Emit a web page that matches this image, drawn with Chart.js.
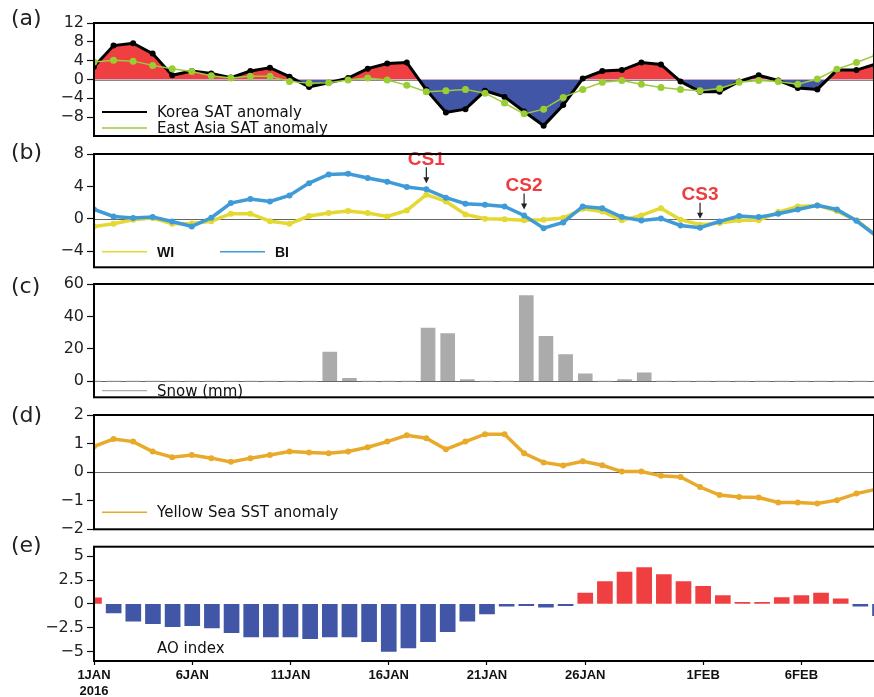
<!DOCTYPE html>
<html>
<head>
<meta charset="utf-8">
<script src="https://cdn.jsdelivr.net/npm/chart.js@4/dist/chart.umd.min.js"></script>
<style>
  html, body { margin: 0; padding: 0; background: #fff; width: 874px; height: 697px; overflow: hidden; }
  canvas { position: absolute; left: 0; top: 0; }
</style>
</head>
<body>
<canvas id="pa" width="878" height="697"></canvas>
<canvas id="pb" width="878" height="697"></canvas>
<canvas id="pc" width="878" height="697"></canvas>
<canvas id="pd" width="878" height="697"></canvas>
<canvas id="pe" width="878" height="697"></canvas>
<script>
// Daily values, 1 Jan – 10 Feb 2016 (array index = days since 1 Jan)
const dates = [
  '1JAN','2JAN','3JAN','4JAN','5JAN','6JAN','7JAN','8JAN','9JAN','10JAN',
  '11JAN','12JAN','13JAN','14JAN','15JAN','16JAN','17JAN','18JAN','19JAN','20JAN',
  '21JAN','22JAN','23JAN','24JAN','25JAN','26JAN','27JAN','28JAN','29JAN','30JAN',
  '31JAN','1FEB','2FEB','3FEB','4FEB','5FEB','6FEB','7FEB','8FEB','9FEB','10FEB'
];

// (a) surface air temperature anomalies
const koreaSAT = [2.7, 7.2, 7.7, 5.5, 0.9, 1.8, 1.3, 0.4, 1.8, 2.5,
  0.6, -1.6, -0.7, 0.3, 2.3, 3.4, 3.6, -2.2, -7.0, -6.3,
  -2.4, -3.7, -6.8, -9.8, -5.4, 0.2, 1.8, 2.0, 3.6, 3.2,
  -0.4, -2.6, -2.6, -0.4, 0.9, -0.2, -1.8, -2.1, 2.0, 2.0, 3.3];
const eastAsiaSAT = [3.7, 4.1, 3.9, 3.0, 2.3, 1.7, 0.8, 0.3, 0.7, 0.7,
  -0.4, -0.8, -0.7, -0.1, 0.3, -0.1, -1.2, -2.6, -2.4, -2.1,
  -2.9, -5.0, -7.3, -6.3, -3.8, -2.1, -0.6, -0.2, -1.0, -1.7,
  -2.1, -2.4, -1.9, -0.6, -0.2, -0.4, -1.0, 0.1, 2.2, 3.6, 5.2];

// (b) WI and BI indices
const wiIndex = [-0.95, -0.62, -0.12, 0.08, -0.62, -0.6, -0.3, 0.62, 0.62, -0.3,
  -0.62, 0.33, 0.7, 0.95, 0.7, 0.28, 1.03, 2.97, 2.14, 0.53,
  0.0, -0.05, -0.2, -0.12, 0.08, 1.23, 0.9, -0.2, 0.41, 1.31,
  -0.12, -0.74, -0.54, -0.2, -0.2, 0.82, 1.52, 1.65, 0.95, -0.2, -2.0];
const biIndex = [1.15, 0.28, 0.1, 0.2, -0.35, -0.95, 0.12, 1.93, 2.43, 2.14,
  2.88, 4.4, 5.48, 5.56, 5.03, 4.58, 3.92, 3.63, 2.6, 1.86,
  1.73, 1.52, 0.41, -1.16, -0.46, 1.52, 1.31, 0.2, -0.21, 0.04,
  -0.83, -1.11, -0.33, 0.33, 0.2, 0.62, 1.15, 1.65, 1.15, -0.25, -2.1];
const coldSurges = [
  { label: 'CS1', date: '18JAN' },
  { label: 'CS2', date: '23JAN' },
  { label: 'CS3', date: '1FEB' }
];

// (c) snowfall (mm)
const snowMM = [0, 0, 0, 0, 0, 0, 0, 0, 0, 0,
  0, 0, 18, 1.7, 0, 0, 0, 32.8, 29.3, 1,
  0, 0, 52.8, 27.6, 16.4, 4.5, 0, 1, 5.1, 0,
  0, 0, 0, 0, 0, 0, 0, 0, 0, 0, 0];

// (d) Yellow Sea sea surface temperature anomaly
const yellowSeaSST = [0.9, 1.16, 1.07, 0.72, 0.52, 0.6, 0.49, 0.36, 0.49, 0.6,
  0.72, 0.69, 0.66, 0.72, 0.87, 1.07, 1.29, 1.19, 0.8, 1.07,
  1.33, 1.33, 0.66, 0.34, 0.23, 0.38, 0.24, 0.02, 0.02, -0.13,
  -0.17, -0.52, -0.8, -0.87, -0.89, -1.06, -1.06, -1.1, -0.98, -0.75, -0.6];

// (e) Arctic Oscillation index
const aoIndex = [0.63, -0.95, -1.83, -2.07, -2.39, -2.28, -2.53, -3.02, -3.47, -3.47,
  -3.47, -3.65, -3.47, -3.47, -3.97, -4.99, -4.63, -3.97, -2.92, -1.83,
  -1.05, -0.25, -0.18, -0.36, -0.18, 1.12, 2.35, 3.33, 3.82, 3.08,
  2.35, 1.85, 0.87, 0.17, 0.15, 0.66, 0.87, 1.12, 0.53, -0.25, -1.23];

// axis ticks
const xTickDates = ['1JAN', '6JAN', '11JAN', '16JAN', '21JAN', '26JAN', '1FEB', '6FEB'];
const yearLabel = '2016';
const ticksA = [12, 8, 4, 0, -4, -8];
const ticksB = [8, 4, 0, -4];
const ticksC = [60, 40, 20, 0];
const ticksD = [2, 1, 0, -1, -2];
const ticksE = [5, 2.5, 0, -2.5, -5];

// ---- layout / style ----
const W = 878, H = 697, AXIS_W = 94, DAY_PX = 19.65;
const X_MAX = (W - AXIS_W) / DAY_PX;
const RED = '#EF3F41', BLUE = '#4256A7';
const TICK_FONT = { family: '"DejaVu Sans", sans-serif', size: 16 };
const LEGEND_FONT = '15px "DejaVu Sans", sans-serif';

const pts = arr => arr.map((v, i) => ({ x: i, y: v }));
const dayOf = d => dates.indexOf(d);
const fmt = v => (v < 0 ? '\u2212' : '') + Math.abs(v);

function yScale(min, max, ticks) {
  return {
    type: 'linear', min, max,
    afterFit: s => { s.width = AXIS_W; },
    afterBuildTicks: s => { s.ticks = ticks.map(v => ({ value: v })); },
    ticks: { callback: v => fmt(v), color: '#222', padding: 3, font: TICK_FONT, autoSkip: false },
    grid: { drawOnChartArea: false, drawTicks: true, tickLength: 7, tickColor: '#111', tickWidth: 1.2, offset: false },
    border: { display: false }
  };
}
function xHidden() {
  return { type: 'linear', min: 0, max: X_MAX, offset: false, display: false };
}
function xDates() {
  return {
    type: 'linear', min: 0, max: X_MAX, offset: false,
    afterBuildTicks: s => { s.ticks = xTickDates.map(d => ({ value: dayOf(d) })); },
    afterFit: s => { s.height = 36; },
    ticks: {
      autoSkip: false, maxRotation: 0, color: '#111', padding: 3,
      font: { family: '"Liberation Sans", Arial, sans-serif', size: 13, weight: 'bold', lineHeight: 1.2 },
      callback: (v, i) => i === 0 ? [xTickDates[0], yearLabel] : xTickDates[i]
    },
    grid: { drawOnChartArea: false, drawTicks: true, tickLength: 4, tickColor: '#000', tickWidth: 1.2, offset: false },
    border: { display: false }
  };
}

// frame, zero line, panel tag, in-plot legend and cold-surge markers
function decor(cfg) {
  return {
    id: 'decor',
    beforeDatasetsDraw(chart) {
      if (!cfg.zeroLine) return;
      const { ctx, chartArea: a, scales: { y } } = chart;
      const py = Math.round(y.getPixelForValue(0)) + 0.5;
      ctx.save();
      ctx.strokeStyle = cfg.zeroLine; ctx.lineWidth = 1;
      ctx.beginPath(); ctx.moveTo(a.left, py); ctx.lineTo(a.right, py); ctx.stroke();
      ctx.restore();
    },
    afterDatasetsDraw(chart) {
      const { ctx, chartArea: a, scales: { x, y } } = chart;
      ctx.save();
      (cfg.legend || []).forEach(it => {
        const x0 = a.left + (it.dx || 0);
        if (it.color) {
          ctx.strokeStyle = it.color; ctx.lineWidth = it.width || 1.5;
          ctx.beginPath(); ctx.moveTo(x0 + 8, it.y); ctx.lineTo(x0 + 53, it.y); ctx.stroke();
        }
        ctx.font = it.font || LEGEND_FONT;
        ctx.fillStyle = '#111'; ctx.textAlign = 'left'; ctx.textBaseline = 'middle';
        ctx.fillText(it.text, x0 + 63, it.y + 1);
      });
      (cfg.surges || []).forEach(cs => {
        const d = dayOf(cs.date);
        const px = x.getPixelForValue(d);
        const tip = y.getPixelForValue(Math.max(biIndex[d], wiIndex[d])) - 6;
        const top = tip - 16;
        ctx.strokeStyle = '#222'; ctx.fillStyle = '#222'; ctx.lineWidth = 1.2;
        ctx.beginPath(); ctx.moveTo(px, top); ctx.lineTo(px, tip - 4); ctx.stroke();
        ctx.beginPath(); ctx.moveTo(px, tip); ctx.lineTo(px - 3, tip - 6); ctx.lineTo(px + 3, tip - 6); ctx.closePath(); ctx.fill();
        ctx.font = 'bold 19px "Liberation Sans", Arial, sans-serif';
        ctx.fillStyle = '#EF3B3E'; ctx.textAlign = 'center'; ctx.textBaseline = 'middle';
        ctx.fillText(cs.label, px, top - 8);
      });
      ctx.strokeStyle = '#000'; ctx.lineWidth = 2;
      ctx.strokeRect(a.left, a.top, a.right - a.left, a.bottom - a.top);
      ctx.font = '22px "DejaVu Sans", sans-serif';
      ctx.fillStyle = '#222'; ctx.textAlign = 'left'; ctx.textBaseline = 'middle';
      ctx.fillText(cfg.tag, 11, cfg.tagY);
      ctx.restore();
    }
  };
}

function baseOptions(top, bottom, scales) {
  return {
    responsive: false, animation: false, devicePixelRatio: 1, events: [],
    layout: { padding: { top, bottom: H - bottom, left: 0, right: 0 } },
    plugins: { legend: { display: false }, tooltip: { enabled: false } },
    scales
  };
}

// (a)
new Chart(document.getElementById('pa'), {
  type: 'line',
  data: {
    datasets: [
      { data: pts(eastAsiaSAT), borderColor: '#9BCB3B', borderWidth: 1.5, pointRadius: 3.5,
        pointBackgroundColor: '#9ACD32', pointBorderWidth: 0, fill: false, tension: 0 },
      { data: pts(koreaSAT), borderColor: '#000', borderWidth: 3, pointRadius: 3,
        pointBackgroundColor: '#000', pointBorderWidth: 0, tension: 0,
        fill: { target: 'origin', above: RED, below: BLUE } }
    ]
  },
  options: baseOptions(23, 136, { x: xHidden(), y: yScale(-12, 12, ticksA) }),
  plugins: [decor({
    tag: '(a)', tagY: 19, zeroLine: '#888',
    legend: [
      { text: 'Korea SAT anomaly', y: 112, color: '#000', width: 2 },
      { text: 'East Asia SAT anomaly', y: 128, color: '#9BCB3B', width: 1.5 }
    ]
  })]
});

// (b)
new Chart(document.getElementById('pb'), {
  type: 'line',
  data: {
    datasets: [
      { data: pts(biIndex), borderColor: '#3F9AD8', borderWidth: 3.5, pointRadius: 3,
        pointBackgroundColor: '#3F9AD8', pointBorderWidth: 0, fill: false, tension: 0 },
      { data: pts(wiIndex), borderColor: '#E4D833', borderWidth: 3.5, pointRadius: 3,
        pointBackgroundColor: '#E4D833', pointBorderWidth: 0, fill: false, tension: 0 }
    ]
  },
  options: baseOptions(154, 267.3, { x: xHidden(), y: yScale(-6, 8, ticksB) }),
  plugins: [decor({
    tag: '(b)', tagY: 153, zeroLine: '#666',
    surges: coldSurges,
    legend: [
      { text: 'WI', y: 251.7, color: '#E4D833', width: 1.5, font: 'bold 14px "Liberation Sans", Arial, sans-serif' },
      { text: 'BI', y: 251.7, dx: 118, color: '#3F9AD8', width: 1.5, font: 'bold 14px "Liberation Sans", Arial, sans-serif' }
    ]
  })]
});

// (c)
new Chart(document.getElementById('pc'), {
  type: 'bar',
  data: {
    datasets: [
      { data: pts(snowMM), backgroundColor: '#ABABAB', borderWidth: 0, barThickness: 14 }
    ]
  },
  options: baseOptions(284, 397.3, { x: xHidden(), y: yScale(-10, 60, ticksC) }),
  plugins: [decor({
    tag: '(c)', tagY: 287, zeroLine: '#666',
    legend: [{ text: 'Snow (mm)', y: 390.7, color: '#999', width: 1 }]
  })]
});

// (d)
new Chart(document.getElementById('pd'), {
  type: 'line',
  data: {
    datasets: [
      { data: pts(yellowSeaSST), borderColor: '#E9AA2B', borderWidth: 3.5, pointRadius: 3,
        pointBackgroundColor: '#E9AA2B', pointBorderWidth: 0, fill: false, tension: 0 }
    ]
  },
  options: baseOptions(415, 529.3, { x: xHidden(), y: yScale(-2, 2, ticksD) }),
  plugins: [decor({
    tag: '(d)', tagY: 416, zeroLine: '#666',
    legend: [{ text: 'Yellow Sea SST anomaly', y: 512.3, color: '#E9AA2B', width: 1.5 }]
  })]
});

// (e)
new Chart(document.getElementById('pe'), {
  type: 'bar',
  data: {
    datasets: [
      { data: pts(aoIndex), backgroundColor: aoIndex.map(v => v >= 0 ? RED : BLUE),
        borderWidth: 0, barThickness: 15 }
    ]
  },
  options: baseOptions(546.7, H, { x: xDates(), y: yScale(-6, 6, ticksE) }),
  plugins: [decor({
    tag: '(e)', tagY: 546,
    legend: [{ text: 'AO index', y: 648.3 }]
  })]
});
</script>
</body>
</html>
